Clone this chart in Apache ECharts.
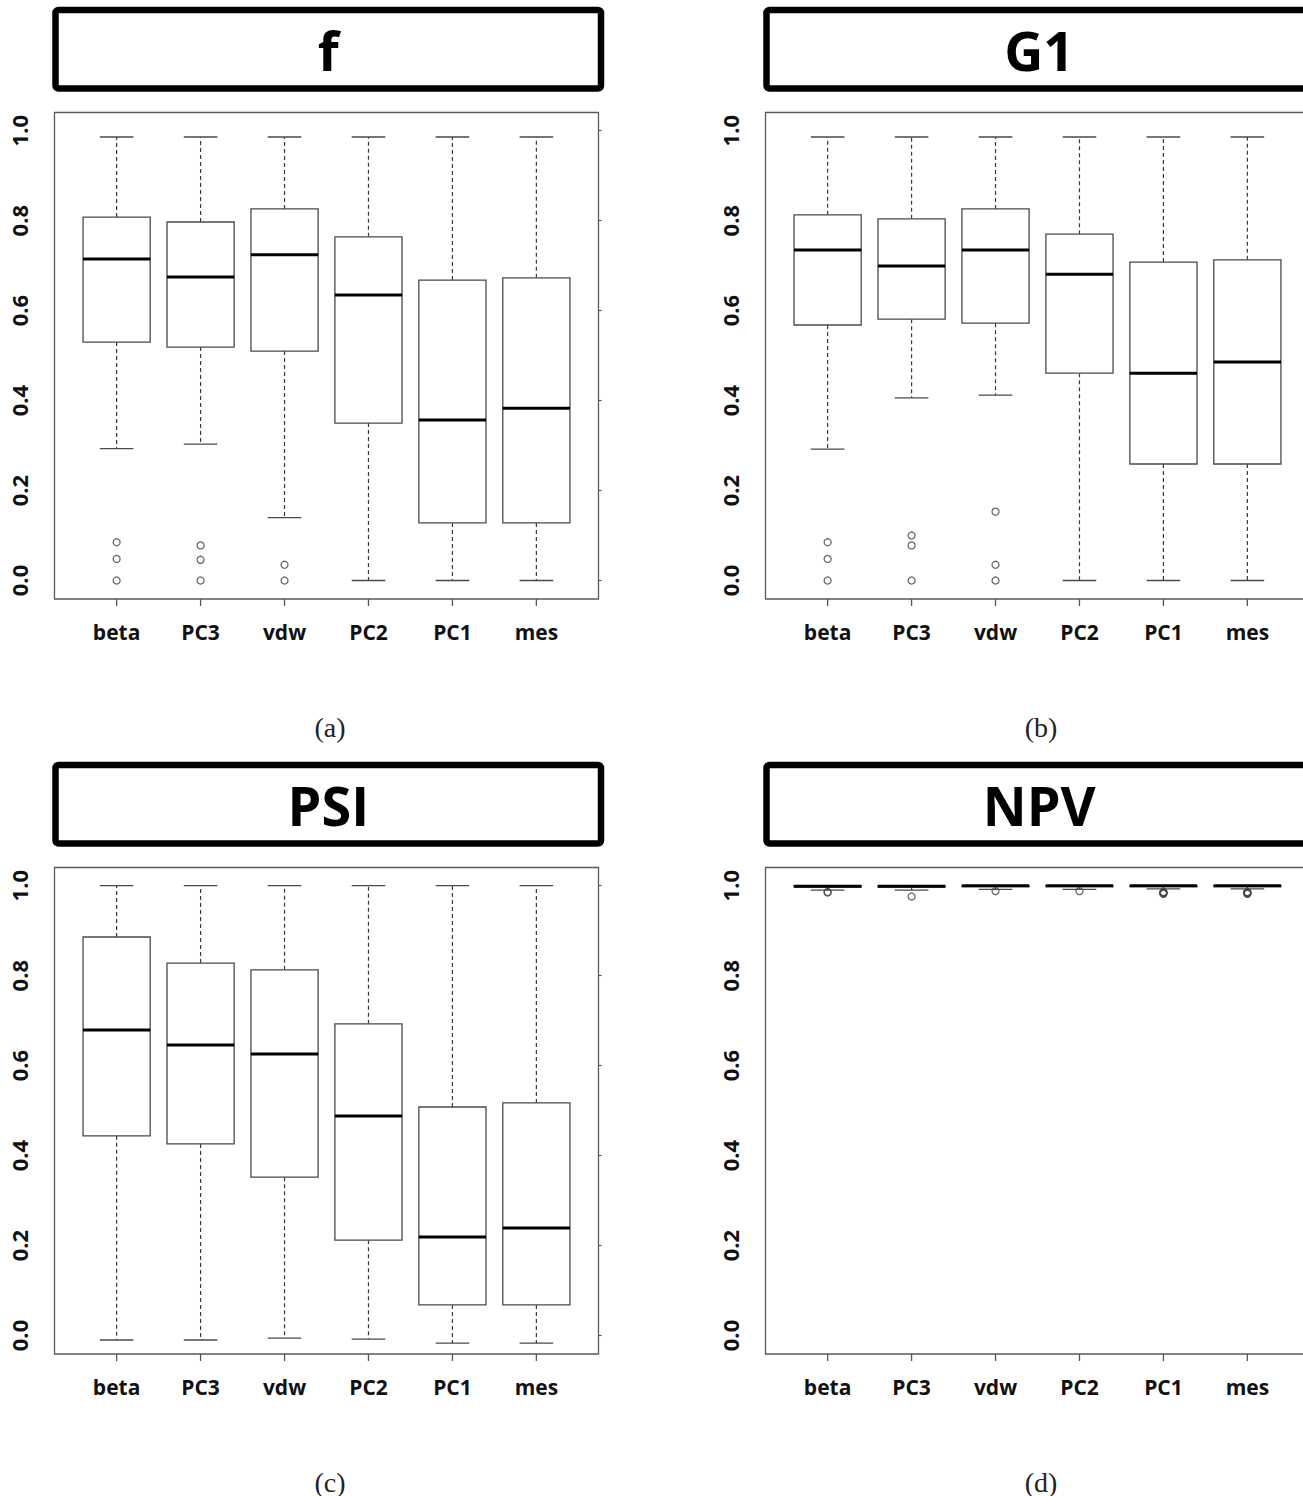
<!DOCTYPE html>
<html>
<head>
<meta charset="utf-8">
<title>Boxplots of f, G1, PSI and NPV</title>
<script src="https://cdn.jsdelivr.net/npm/echarts@6.0.0/dist/echarts.min.js"></script>
<style>
  html, body { margin: 0; padding: 0; background: #fff; }
  #main { width: 1303px; height: 1496px; }
</style>
</head>
<body>
<div id="main"></div>
<script>
// ---- data -------------------------------------------------------------
const categories = ['beta', 'PC3', 'vdw', 'PC2', 'PC1', 'mes'];
const panelTitles = ['f', 'G1', 'PSI', 'NPV'];
const panelCaptions = ['(a)', '(b)', '(c)', '(d)'];
const yTickValues = [0, 0.2, 0.4, 0.6, 0.8, 1.0];

// five-number summaries per category: [lower whisker, Q1, median, Q3, upper whisker]
const fStats = [
  [0.293, 0.530, 0.715, 0.808, 0.986],
  [0.303, 0.519, 0.675, 0.797, 0.986],
  [0.140, 0.510, 0.724, 0.826, 0.986],
  [0.000, 0.350, 0.635, 0.764, 0.986],
  [0.000, 0.128, 0.357, 0.668, 0.986],
  [0.000, 0.128, 0.383, 0.673, 0.986]
];
const fOutliers = [[0.085, 0.048, 0.0], [0.078, 0.046, 0.0], [0.035, 0.0], [], [], []];

const g1Stats = [
  [0.292, 0.568, 0.735, 0.813, 0.986],
  [0.406, 0.581, 0.699, 0.804, 0.986],
  [0.412, 0.572, 0.735, 0.826, 0.986],
  [0.000, 0.461, 0.681, 0.770, 0.986],
  [0.000, 0.259, 0.461, 0.708, 0.986],
  [0.000, 0.259, 0.486, 0.713, 0.986]
];
const g1Outliers = [[0.085, 0.048, 0.0], [0.100, 0.078, 0.0], [0.153, 0.035, 0.0], [], [], []];

const psiStats = [
  [-0.010, 0.444, 0.679, 0.886, 1.000],
  [-0.010, 0.426, 0.646, 0.828, 1.000],
  [-0.006, 0.352, 0.626, 0.813, 1.000],
  [-0.008, 0.212, 0.488, 0.693, 1.000],
  [-0.017, 0.068, 0.219, 0.508, 1.000],
  [-0.017, 0.068, 0.239, 0.517, 1.000]
];
const psiOutliers = [[], [], [], [], [], []];

const npvStats = [
  [0.990, 0.997, 0.999, 1.000, 1.000],
  [0.990, 0.997, 0.999, 1.000, 1.000],
  [0.992, 0.998, 1.000, 1.000, 1.000],
  [0.992, 0.998, 1.000, 1.000, 1.000],
  [0.993, 0.998, 1.000, 1.000, 1.000],
  [0.993, 0.998, 1.000, 1.000, 1.000]
];
const npvOutliers = [
  [0.986, 0.985],
  [0.976],
  [0.988],
  [0.988],
  [0.986, 0.985, 0.984, 0.983, 0.982],
  [0.986, 0.985, 0.984, 0.983, 0.982]
];

// ---- layout (top-left panel; the others are shifted copies) -----------
const PANEL_DX = 711, PANEL_DY = 755;
const FRAME = { x: 54.5, y: 112.5, w: 544, h: 486.5 };   // plot box = grid
const X_RANGE = [0.26, 6.74];                           // boxes sit at 1..6
const Y_ZERO_PX = 580.5, Y_UNIT_PX = 449.8;             // pixel row of 0 and length of 1 unit
const Y_RANGE = [
  -(FRAME.y + FRAME.h - Y_ZERO_PX) / Y_UNIT_PX,
  (Y_ZERO_PX - FRAME.y) / Y_UNIT_PX
];
const X_TICK_LEN = 7;
const TITLE_BOX = { x: 55.5, y: 10, w: 545.5, h: 78.5 };
const CAPTION = { x: 330, y: 727 };
const LABEL_FONT = '"Open Sans", "Noto Sans", sans-serif';
const xPositions = categories.map((c, i) => i + 1);

const panels = [
  { stats: fStats, outliers: fOutliers, col: 0, row: 0 },
  { stats: g1Stats, outliers: g1Outliers, col: 1, row: 0 },
  { stats: psiStats, outliers: psiOutliers, col: 0, row: 1 },
  { stats: npvStats, outliers: npvOutliers, col: 1, row: 1 }
];

// box, dashed whiskers, staples, a heavy median line and the category tick under the frame
function renderBox(params, api) {
  const x = api.value(0);
  const lo = api.coord([x, api.value(1)]);
  const q1 = api.coord([x, api.value(2)]);
  const md = api.coord([x, api.value(3)]);
  const q3 = api.coord([x, api.value(4)]);
  const hi = api.coord([x, api.value(5)]);
  const base = api.coord([x, Y_RANGE[0]]);
  const unit = api.size([1, 0])[0];
  const bw = unit * 0.8, sw = unit * 0.4;
  const cx = md[0];
  const edge = '#4a4a4a';
  const dash = { stroke: '#3a3a3a', lineWidth: 1.2, lineDash: [4, 3] };
  const solid = { stroke: edge, lineWidth: 1.3 };
  return {
    type: 'group',
    children: [
      { type: 'line', shape: { x1: cx, y1: q3[1], x2: cx, y2: hi[1] }, style: dash },
      { type: 'line', shape: { x1: cx, y1: q1[1], x2: cx, y2: lo[1] }, style: dash },
      { type: 'line', shape: { x1: cx - sw / 2, y1: hi[1], x2: cx + sw / 2, y2: hi[1] }, style: solid },
      { type: 'line', shape: { x1: cx - sw / 2, y1: lo[1], x2: cx + sw / 2, y2: lo[1] }, style: solid },
      { type: 'rect', shape: { x: cx - bw / 2, y: q3[1], width: bw, height: q1[1] - q3[1] },
        style: { fill: '#fff', stroke: edge, lineWidth: 1.3 } },
      { type: 'line', shape: { x1: cx - bw / 2, y1: md[1], x2: cx + bw / 2, y2: md[1] },
        style: { stroke: '#000', lineWidth: 3 } },
      { type: 'line', shape: { x1: cx, y1: base[1], x2: cx, y2: base[1] + X_TICK_LEN },
        style: { stroke: '#555', lineWidth: 1.3 } }
    ]
  };
}

const grid = [], xAxis = [], yAxis = [], series = [], graphic = [];

panels.forEach((p, i) => {
  const dx = p.col * PANEL_DX, dy = p.row * PANEL_DY;

  grid.push({
    left: FRAME.x + dx, top: FRAME.y + dy, width: FRAME.w, height: FRAME.h,
    outerBoundsMode: 'none', containLabel: false,
    show: true, borderColor: '#5a5a5a', borderWidth: 1.3, backgroundColor: 'transparent'
  });

  xAxis.push({
    type: 'value', gridIndex: i, min: X_RANGE[0], max: X_RANGE[1], position: 'bottom',
    axisLine: { show: false, onZero: false }, splitLine: { show: false },
    axisTick: { show: false },
    axisLabel: {
      customValues: xPositions, margin: 22,
      fontFamily: LABEL_FONT, fontWeight: 'bold', fontSize: 21, color: '#111',
      formatter: v => categories[Math.round(v) - 1] || ''
    }
  });

  yAxis.push({
    type: 'value', gridIndex: i, position: 'left', min: Y_RANGE[0], max: Y_RANGE[1],
    axisLine: { show: false, onZero: false }, axisTick: { show: false }, splitLine: { show: false },
    axisLabel: {
      customValues: yTickValues, rotate: 90, margin: 25,
      fontFamily: LABEL_FONT, fontWeight: 'bold', fontSize: 22, color: '#111',
      formatter: v => v.toFixed(1)
    }
  });
  yAxis.push({
    type: 'value', gridIndex: i, position: 'right', min: Y_RANGE[0], max: Y_RANGE[1],
    axisLine: { show: false, onZero: false }, splitLine: { show: false }, axisLabel: { show: false },
    axisTick: { show: true, customValues: yTickValues, length: 3, lineStyle: { color: '#555', width: 1.2 } }
  });

  series.push({
    type: 'custom', xAxisIndex: i, yAxisIndex: 2 * i,
    renderItem: renderBox,
    encode: { x: 0, y: [1, 2, 3, 4, 5] },
    data: p.stats.map((s, k) => [xPositions[k]].concat(s)),
    clip: false, silent: true, z: 2
  });

  const pts = [];
  p.outliers.forEach((vals, k) => vals.forEach(v => pts.push([xPositions[k], v])));
  series.push({
    type: 'scatter', xAxisIndex: i, yAxisIndex: 2 * i,
    data: pts, symbol: 'circle', symbolSize: 7,
    itemStyle: { color: 'rgba(0,0,0,0)', borderColor: '#444', borderWidth: 1.3 },
    silent: true, z: 3
  });

  // title strip
  graphic.push({
    type: 'rect', silent: true, z: 1,
    shape: { x: TITLE_BOX.x + dx, y: TITLE_BOX.y + dy, width: TITLE_BOX.w, height: TITLE_BOX.h, r: 3 },
    style: { fill: '#fff', stroke: '#000', lineWidth: 6.5 }
  });
  graphic.push({
    type: 'text', silent: true, z: 2,
    x: TITLE_BOX.x + TITLE_BOX.w / 2 + dx, y: TITLE_BOX.y + TITLE_BOX.h / 2 + dy + 1,
    style: {
      text: panelTitles[i], align: 'center', verticalAlign: 'middle',
      fontFamily: LABEL_FONT, fontWeight: 'bold', fontSize: 54, fill: '#000'
    }
  });
  // sub-figure caption
  graphic.push({
    type: 'text', silent: true, z: 2,
    x: CAPTION.x + dx, y: CAPTION.y + dy,
    style: {
      text: panelCaptions[i], align: 'center', verticalAlign: 'middle',
      fontFamily: '"Liberation Serif", "DejaVu Serif", serif', fontSize: 28, fill: '#222'
    }
  });
});

const chart = echarts.init(document.getElementById('main'), null, { renderer: 'svg', width: 1303, height: 1496 });
chart.setOption({
  animation: false,
  backgroundColor: '#fff',
  grid, xAxis, yAxis, series, graphic
});
</script>
</body>
</html>
